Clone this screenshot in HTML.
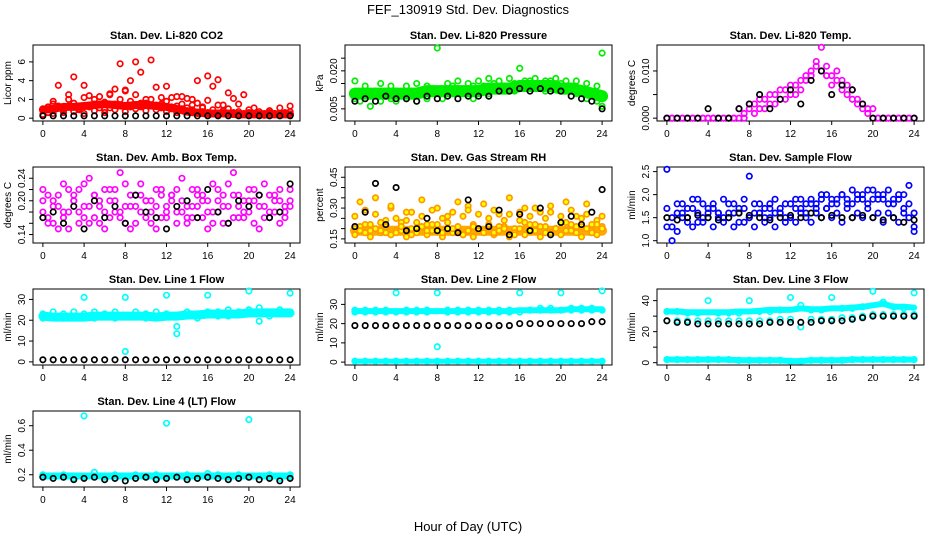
<!DOCTYPE html>
<html><head><meta charset="utf-8"><style>
body{margin:0;background:#fff}
svg{display:block;font-family:"Liberation Sans",Arial,sans-serif}
</style></head><body>
<svg id="c" width="936" height="540" viewBox="0 0 936 540">
<text x="468" y="14" text-anchor="middle" font-size="13">FEF_130919  Std. Dev. Diagnostics</text>
<text x="468" y="531" text-anchor="middle" font-size="13">Hour of Day (UTC)</text>
</svg>
<script>
// ---- data (value arrays; index*step = hour) ----
const hoursTicks=[0,4,8,12,16,20,24];
const co2Red1=[0.8,1.2,1.5,3.5,1.0,2.0,4.4,1.2,3.5,2.4,1.5,2.3,0.9,2.5,3.1,5.8,2.9,4.0,6.0,4.9,2.0,6.2,3.3,1.5,3.4,2.2,1.3,2.3,2.1,1.4,4.0,1.1,4.5,3.4,4.1,1.4,2.7,2.1,1.5,2.5,0.9,1.1,0.7,0.5,0.8,0.5,0.4,0.6,0.7];
const co2Red2=[1.0,0.6,1.8,1.3,0.8,2.5,1.6,0.9,2.2,1.3,2.0,1.1,1.7,2.6,1.5,2.0,3.0,1.8,2.5,1.2,1.6,2.0,1.4,2.2,1.8,1.0,2.3,1.5,1.1,2.0,1.6,1.2,1.9,0.9,1.4,0.8,1.0,0.6,0.7,0.5,0.6,0.4,0.5,0.4,0.6,0.5,1.1,0.5,1.3];
const co2Red3=[0.4,0.9,0.5,1.1,0.6,1.3,0.7,1.0,0.5,1.2,0.8,1.5,0.6,1.1,0.9,1.4,0.7,1.2,1.0,1.6,0.8,1.3,0.9,1.1,0.7,1.2,0.6,1.0,0.8,0.9,0.5,0.7,0.6,0.5,0.4,0.6,0.5,0.4,0.5,0.4,0.3,0.5,0.4,0.3,0.4,0.5,0.3,0.4,0.3];
const co2Band=[0.9,1.0,1.2,1.2,1.3,1.4,1.5,1.4,1.3,1.4,1.4,1.3,1.2,1.0,0.7,0.6,0.5,0.5,0.5,0.4,0.4,0.4,0.4,0.4,0.4];
const co2Black=[0.25,0.25,0.25,0.25,0.25,0.25,0.25,0.25,0.25,0.25,0.25,0.25,0.25,0.25,0.25,0.25,0.25,0.25,0.25,0.25,0.25,0.25,0.25,0.25,0.25];
const presGreen1=[0.016,0.011,0.014,0.010,0.012,0.015,0.011,0.014,0.012,0.010,0.014,0.011,0.015,0.012,0.014,0.011,0.029,0.012,0.015,0.014,0.016,0.012,0.015,0.014,0.016,0.014,0.017,0.015,0.016,0.014,0.017,0.015,0.021,0.016,0.014,0.017,0.015,0.016,0.014,0.017,0.015,0.016,0.014,0.016,0.012,0.015,0.011,0.014,0.027];
const presGreen2=[0.009,0.008,0.012,0.006,0.011,0.008,0.012,0.009,0.008,0.011,0.009,0.012,0.008,0.011,0.009,0.012,0.011,0.009,0.012,0.011,0.013,0.011,0.012,0.009,0.013,0.012,0.011,0.013,0.012,0.014,0.013,0.012,0.014,0.013,0.016,0.013,0.014,0.012,0.016,0.013,0.014,0.012,0.013,0.011,0.012,0.009,0.011,0.008,0.006];
const presBand=[0.011,0.011,0.011,0.011,0.011,0.011,0.011,0.012,0.012,0.012,0.012,0.012,0.012,0.013,0.013,0.013,0.014,0.014,0.014,0.014,0.013,0.013,0.012,0.011,0.010];
const presBlack=[0.008,0.009,0.008,0.010,0.009,0.009,0.008,0.010,0.009,0.010,0.009,0.010,0.010,0.010,0.012,0.012,0.013,0.012,0.013,0.012,0.012,0.010,0.009,0.008,0.005];
const tempMag1=[0,0,0,0,0,0,0,0,0,0,0,0,0,0,0.002,0,0.003,0.001,0.004,0.002,0.005,0.003,0.006,0.004,0.007,0.005,0.008,0.009,0.010,0.012,0.015,0.011,0.009,0.010,0.008,0.007,0.006,0.004,0.003,0.002,0,0,0,0,0,0,0,0,0];
const tempMag2=[0,0,0,0,0,0,0,0,0,0,0,0,0,0,0,0.001,0.002,0.003,0.002,0.004,0.003,0.005,0.004,0.006,0.005,0.007,0.006,0.008,0.009,0.011,0.010,0.009,0.007,0.008,0.006,0.005,0.004,0.003,0.002,0.001,0.002,0,0,0,0,0,0,0,0];
const tempBlack=[0,0,0,0,0.002,0,0,0.002,0.003,0.005,0.002,0.004,0.006,0.003,0.008,0.010,0.005,0.007,0.006,0.003,0,0,0,0,0];
const ambMag1=[0.22,0.17,0.20,0.15,0.23,0.18,0.21,0.16,0.19,0.24,0.17,0.20,0.15,0.22,0.18,0.25,0.16,0.21,0.19,0.23,0.17,0.20,0.15,0.22,0.18,0.21,0.16,0.24,0.19,0.17,0.22,0.20,0.15,0.23,0.18,0.21,0.16,0.25,0.19,0.17,0.22,0.20,0.15,0.23,0.18,0.21,0.16,0.19,0.22];
const ambMag2=[0.18,0.21,0.16,0.19,0.17,0.22,0.20,0.18,0.23,0.16,0.21,0.19,0.22,0.17,0.20,0.18,0.23,0.19,0.16,0.21,0.20,0.18,0.22,0.17,0.19,0.21,0.18,0.20,0.17,0.22,0.19,0.21,0.18,0.16,0.20,0.19,0.23,0.17,0.21,0.18,0.20,0.22,0.19,0.17,0.21,0.18,0.20,0.17,0.19];
const ambMag3=[0.20,0.16,0.19,0.21,0.18,0.15,0.20,0.22,0.17,0.19,0.21,0.16,0.18,0.20,0.22,0.17,0.19,0.15,0.21,0.18,0.20,0.16,0.19,0.21,0.17,0.20,0.22,0.18,0.16,0.19,0.21,0.17,0.20,0.18,0.22,0.16,0.19,0.21,0.17,0.20,0.18,0.16,0.21,0.19,0.17,0.20,0.22,0.18,0.20];
const ambBlack=[0.17,0.18,0.16,0.19,0.15,0.20,0.17,0.19,0.16,0.21,0.18,0.17,0.15,0.19,0.20,0.17,0.22,0.18,0.16,0.20,0.19,0.21,0.17,0.18,0.23];
const rhOrange1=[0.20,0.33,0.18,0.22,0.35,0.19,0.24,0.31,0.18,0.21,0.28,0.17,0.23,0.34,0.19,0.22,0.30,0.18,0.26,0.20,0.33,0.17,0.29,0.21,0.19,0.32,0.22,0.18,0.27,0.20,0.35,0.17,0.24,0.30,0.19,0.22,0.28,0.18,0.31,0.20,0.23,0.33,0.19,0.26,0.21,0.32,0.18,0.22,0.20];
const rhOrange2=[0.17,0.19,0.22,0.16,0.20,0.18,0.21,0.17,0.19,0.23,0.16,0.20,0.18,0.21,0.17,0.19,0.22,0.16,0.20,0.18,0.21,0.17,0.19,0.16,0.20,0.18,0.22,0.17,0.19,0.21,0.16,0.18,0.20,0.17,0.22,0.19,0.16,0.21,0.18,0.20,0.17,0.19,0.22,0.18,0.16,0.20,0.19,0.17,0.21];
const rhOrange3=[0.26,0.21,0.29,0.19,0.27,0.23,0.18,0.30,0.25,0.19,0.24,0.28,0.20,0.26,0.22,0.29,0.19,0.25,0.23,0.28,0.20,0.26,0.31,0.22,0.27,0.19,0.25,0.29,0.21,0.24,0.27,0.20,0.28,0.23,0.26,0.30,0.21,0.25,0.28,0.20,0.26,0.23,0.29,0.21,0.25,0.27,0.22,0.24,0.26];
const rhBand=[0.19,0.19,0.19,0.19,0.19,0.19,0.19,0.19,0.19,0.19,0.19,0.19,0.19,0.19,0.19,0.19,0.19,0.19,0.19,0.19,0.19,0.19,0.19,0.19,0.19];
const rhBlack=[0.21,0.28,0.42,0.22,0.40,0.19,0.20,0.25,0.19,0.20,0.18,0.34,0.20,0.21,0.29,0.17,0.27,0.19,0.30,0.17,0.23,0.26,0.22,0.28,0.39];
const flowBlue1=[2.55,1.0,1.8,1.5,1.7,1.9,1.4,1.8,1.6,1.7,1.5,1.9,1.6,1.8,1.4,1.7,2.4,1.6,1.8,1.5,1.7,1.9,1.6,1.8,1.5,1.7,1.9,1.6,1.8,1.7,2.0,1.7,1.9,1.8,2.0,1.8,2.1,1.9,2.0,1.8,2.1,1.9,2.0,1.8,1.9,2.0,1.7,2.2,1.3];
const flowBlue2=[1.3,1.5,1.2,1.6,1.4,1.3,1.6,1.4,1.5,1.3,1.6,1.4,1.5,1.3,1.6,1.4,1.5,1.3,1.6,1.4,1.5,1.3,1.6,1.4,1.5,1.4,1.6,1.5,1.4,1.6,1.5,1.7,1.5,1.6,1.4,1.7,1.5,1.6,1.5,1.7,1.5,1.6,1.4,1.6,1.5,1.4,1.6,1.5,1.2];
const flowBlue3=[1.7,1.3,1.6,1.8,1.5,1.7,1.9,1.5,1.7,1.8,1.6,1.5,1.8,1.6,1.7,1.9,1.5,1.8,1.6,1.7,1.8,1.6,1.7,1.5,1.8,1.9,1.7,1.8,1.9,1.8,1.9,2.0,1.8,1.9,2.0,1.9,1.8,2.0,1.9,2.1,1.9,2.0,1.9,2.1,1.8,1.9,2.0,1.8,1.6];
const flowBlack=[1.5,1.45,1.5,1.55,1.5,1.45,1.5,1.6,1.55,1.5,1.45,1.5,1.55,1.5,1.6,1.5,1.55,1.5,1.5,1.55,1.5,1.45,1.5,1.4,1.45];
const l1Cyan1=[21,22,21,22,31,21,22,21,31,22,21,22,32,17,22,21,32,22,22,23,34,19.5,22,23,33];
const l1Cyan2=[23,24,23,24,23,24,23,24,5,24,23,24,23,13.5,24,23,24,24,25,24,25,26,24,25,24];
const l1Band=[22,21.5,21.5,21.5,21.5,22,22,22,22,22,22,21.5,22,22,22.5,22.5,23,23,23,23,23.5,23.5,23.5,23.5,23.5];
const l1Black=[1,1,1,1,1,1,1,1,1,1,1,1,1,1,1,1,1,1,1,1,1,1,1,1,1];
const l2Cyan1=[27,27,27,27,36,27,27,27,36,27,27,27,27,27,27,27,36,27,28,28,36,28,28,28,37];
const l2Cyan2=[26,26,26,26,26,26,26,26,8,26,26,26,26,26,26,26,26,27,27,27,27,27,27,27,27];
const l2Band=[26.5,26.5,26.5,26.5,26.5,26.5,26.5,26.5,26.5,26.5,26.5,26.5,26.5,26.5,26.5,26.5,27,27,27,27,27,27.5,27.5,27.5,27.5];
const l2CyanLow=[0.5,0.5,0.5,0.5,0.5,0.5,0.5,0.5,0.5,0.5,0.5,0.5,0.5,0.5,0.5,0.5,0.5,0.5,0.5,0.5,0.5,0.5,0.5,0.5,0.5];
const l2Black=[19,19,19,19,19,19,19,19,19,19,19,19,19,19,19,19,20,20,20,20,20,20,20,21,21];
const l3Cyan1=[33,33,32,32,40,32,32,32,40,33,33,34,42,37,34,34,42,35,35,36,46,39,36,35,45];
const l3Cyan2=[27,27,27,27,27,27,27,27,27,27,27,28,28,23,28,28,28,29,29,30,31,31,31,31,31];
const l3Band=[33,33,32.5,32.5,32.5,32.5,32.5,33,33,33.5,34,34,34,35,34.5,34.5,35,35,35.5,36,37,38,36,36,35.5];
const l3CyanLow=[2,2,2,2,2,2,2,1.5,1.5,1.5,1.5,1.5,1,1,1.5,1.5,1.5,1.5,2,2,2,2,2,2,2];
const l3Black=[27,26,26,25,25,25,25,25,25,25,26,26,26,26,26,27,27,27,28,29,30,30,30,30,30];
const l4Cyan1=[0.20,0.19,0.20,0.19,0.68,0.22,0.19,0.20,0.19,0.20,0.19,0.20,0.62,0.19,0.20,0.19,0.21,0.20,0.19,0.20,0.65,0.19,0.20,0.19,0.20];
const l4Cyan2=[0.18,0.19,0.18,0.17,0.18,0.19,0.18,0.17,0.18,0.19,0.18,0.17,0.18,0.19,0.18,0.17,0.18,0.19,0.18,0.17,0.18,0.19,0.18,0.17,0.18];
const l4Band=[0.19,0.19,0.19,0.19,0.19,0.19,0.19,0.19,0.19,0.19,0.19,0.19,0.19,0.19,0.19,0.19,0.19,0.19,0.19,0.19,0.19,0.19,0.19,0.19,0.19];
const l4Black=[0.18,0.17,0.18,0.16,0.17,0.18,0.16,0.17,0.15,0.17,0.18,0.16,0.17,0.18,0.16,0.17,0.18,0.17,0.16,0.17,0.18,0.16,0.17,0.15,0.17];

const ns="http://www.w3.org/2000/svg";
const svg=document.getElementById('c');
function mk(tag,attrs,parent){const e=document.createElementNS(ns,tag);for(const k in attrs)e.setAttribute(k,attrs[k]);(parent||svg).appendChild(e);return e;}

const colX=[33,345,657], rowY=[45,167,289,411];
const W=267,H=76;
const panels=[
 {t:"Stan. Dev. Li-820 CO2",yl:"Licor ppm",c:0,r:0,ymin:-0.3,ymax:7.8,ticks:[0,2,4,6],lab:["0","2","4","6"],bands:[[co2Band,"#ff0000",8]],series:[[co2Red3,"#ff0000"],[co2Red2,"#ff0000"],[co2Red1,"#ff0000"],[co2Black,"#000"]]},
 {t:"Stan. Dev. Li-820 Pressure",yl:"kPa",c:1,r:0,ymin:0.0002,ymax:0.0302,ticks:[0.005,0.010,0.015,0.020,0.025],lab:["0.005","","","0.020",""],bands:[[presBand,"#00ee00",12]],series:[[presGreen2,"#00ee00"],[presGreen1,"#00ee00"],[presBlack,"#000"]]},
 {t:"Stan. Dev. Li-820 Temp.",yl:"degrees C",c:2,r:0,ymin:-0.0006,ymax:0.0155,ticks:[0,0.005,0.010],lab:["0.000","","0.010"],bands:[],series:[[tempMag2,"#ff00ff"],[tempMag1,"#ff00ff"],[tempBlack,"#000"]]},
 {t:"Stan. Dev. Amb. Box Temp.",yl:"degrees C",c:0,r:1,ymin:0.125,ymax:0.26,ticks:[0.14,0.16,0.18,0.20,0.22,0.24],lab:["0.14","","","0.20","","0.24"],bands:[],series:[[ambMag3,"#ff00ff"],[ambMag2,"#ff00ff"],[ambMag1,"#ff00ff"],[ambBlack,"#000"]]},
 {t:"Stan. Dev. Gas Stream RH",yl:"percent",c:1,r:1,ymin:0.13,ymax:0.5,ticks:[0.15,0.20,0.25,0.30,0.35,0.40,0.45],lab:["0.15","","","0.30","","","0.45"],bands:[[rhBand,"#ffaa00",10]],series:[[rhOrange3,"#ff9900","#ffff00"],[rhOrange2,"#ff9900","#ffff00"],[rhOrange1,"#ff9900","#ffff00"],[rhBlack,"#000"]]},
 {t:"Stan. Dev. Sample Flow",yl:"ml/min",c:2,r:1,ymin:0.95,ymax:2.6,ticks:[1.0,1.5,2.0,2.5],lab:["1.0","1.5","2.0","2.5"],bands:[],series:[[flowBlue3,"#0000ff"],[flowBlue2,"#0000ff"],[flowBlue1,"#0000ff"],[flowBlack,"#000"]]},
 {t:"Stan. Dev. Line 1 Flow",yl:"ml/min",c:0,r:2,ymin:-1.5,ymax:35,ticks:[0,10,20,30],lab:["0","10","20","30"],bands:[[l1Band,"#00ffff",9]],series:[[l1Cyan2,"#00ffff"],[l1Cyan1,"#00ffff"],[l1Black,"#000"]]},
 {t:"Stan. Dev. Line 2 Flow",yl:"ml/min",c:1,r:2,ymin:-1.5,ymax:38,ticks:[0,10,20,30],lab:["0","10","20","30"],bands:[[l2Band,"#00ffff",6],[l2CyanLow,"#00ffff",5]],series:[[l2Cyan2,"#00ffff"],[l2Cyan1,"#00ffff"],[l2CyanLow,"#00ffff"],[l2Black,"#000"]]},
 {t:"Stan. Dev. Line 3 Flow",yl:"ml/min",c:2,r:2,ymin:-1.5,ymax:47.5,ticks:[0,10,20,30,40],lab:["0","","20","","40"],bands:[[l3Band,"#00ffff",6],[l3CyanLow,"#00ffff",6]],series:[[l3Cyan1,"#00ffff"],[l3Cyan2,"#00ffff"],[l3CyanLow,"#00ffff"],[l3Black,"#000"]]},
 {t:"Stan. Dev. Line 4 (LT) Flow",yl:"ml/min",c:0,r:3,ymin:0.1,ymax:0.72,ticks:[0.2,0.4,0.6],lab:["0.2","0.4","0.6"],bands:[[l4Band,"#00ffff",7]],series:[[l4Cyan2,"#00ffff"],[l4Cyan1,"#00ffff"],[l4Black,"#000"]]}
];

panels.forEach((p,pi)=>{
  const L=colX[p.c],T=rowY[p.r];
  const k=W/25.92;
  const xs=h=>L+0.96*k+h*k;
  const ys=v=>T+H-(v-p.ymin)/(p.ymax-p.ymin)*H;
  const g=mk('g',{});
  
  
  const tt=mk('text',{x:L+W/2,y:T-6,'text-anchor':'middle','font-size':11,'font-weight':'bold'},g);tt.textContent=p.t;
  
  
  const box=mk('rect',{x:L,y:T,width:W,height:H,fill:'none',stroke:'#000','stroke-width':1},g);
  
  
  hoursTicks.forEach(h=>{
    mk('line',{x1:xs(h),x2:xs(h),y1:T+H,y2:T+H+4,stroke:'#000'},g);
    const tl=mk('text',{x:xs(h),y:T+H+16,'text-anchor':'middle','font-size':10},g);tl.textContent=h;
    
    
  });
  p.ticks.forEach((v,i)=>{
    const y=ys(v);
    mk('line',{x1:L-4,x2:L,y1:y,y2:y,stroke:'#000'},g);
    if(p.lab[i]){const tl=mk('text',{x:L-8,y:y,'text-anchor':'middle','font-size':10,transform:`rotate(-90 ${L-8} ${y})`},g);tl.textContent=p.lab[i];
    
    }
  });
  const yl=mk('text',{x:L-22,y:T+H/2,'text-anchor':'middle','font-size':10,transform:`rotate(-90 ${L-22} ${T+H/2})`},g);yl.textContent=p.yl;
  
  
  p.bands.forEach(b=>{
    const arr=b[0],step=24/(arr.length-1);
    const pts=arr.map((v,i)=>xs(i*step).toFixed(1)+','+ys(v).toFixed(1)).join(' ');
    const pl=mk('polyline',{points:pts,fill:'none',stroke:b[1],'stroke-width':b[2],'stroke-linejoin':'round','stroke-linecap':'round'},g);
    
    
  });
  p.series.forEach(s=>{
    const arr=s[0],step=24/(arr.length-1);
    arr.forEach((v,i)=>{
      const c=mk('circle',{cx:xs(i*step),cy:ys(v),r:2.7,fill:s[2]||'none',stroke:s[1],'stroke-width':1.7},g);
      
      
    });
  });
});
</script>
</body></html>
